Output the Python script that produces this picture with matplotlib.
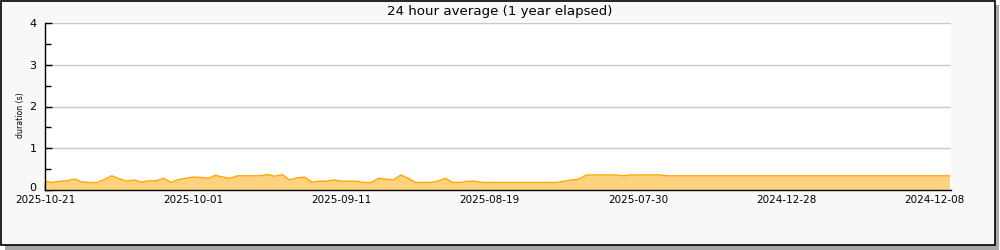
import matplotlib

matplotlib.use("Agg")
import matplotlib.pyplot as plt
import matplotlib.transforms as mtransforms
from matplotlib.patches import Rectangle
import numpy as np

TITLE = "24 hour average (1 year elapsed)"
Y_LABEL = "duration (s)"

# one value per day
durations = [
    0.21, 0.18, 0.21, 0.22, 0.26, 0.19, 0.18, 0.18, 0.25, 0.34,
    0.27, 0.21, 0.24, 0.19, 0.22, 0.22, 0.28, 0.18, 0.25, 0.28,
    0.31, 0.30, 0.28, 0.35, 0.31, 0.28, 0.34, 0.34, 0.34, 0.34,
    0.37, 0.33, 0.37, 0.24, 0.29, 0.31, 0.19, 0.21, 0.21, 0.24,
    0.21, 0.21, 0.21, 0.18, 0.18, 0.28, 0.26, 0.24, 0.36, 0.28,
    0.18, 0.18, 0.18, 0.21, 0.28, 0.18, 0.18, 0.21, 0.21, 0.18,
    0.18, 0.18, 0.18, 0.18, 0.18, 0.18, 0.18, 0.18, 0.18, 0.18,
    0.21, 0.24, 0.26, 0.36, 0.36, 0.36, 0.36, 0.36, 0.34, 0.36,
    0.36, 0.36, 0.36, 0.36,
] + [0.34] * 39

tick_positions = [0, 20, 40, 60, 80, 100, 120]
tick_labels = [
    "2025-10-21", "2025-10-01", "2025-09-11", "2025-08-19",
    "2025-07-30", "2024-12-28", "2024-12-08",
]
y_ticks = [0, 1, 2, 3, 4]

FILL = "#ffd27f"
EDGE = "#ffa600"
FONT = 7.5

fig = plt.figure(figsize=(10, 2.5), dpi=100, facecolor="white")

# framed panel with a drop shadow
fig.add_artist(Rectangle((0.005, 0.0), 0.994, 0.98, transform=fig.transFigure,
                         facecolor="#a8a8a8", edgecolor="none", zorder=-3))
fig.add_artist(Rectangle((0.0005, 0.02), 0.994, 0.978, transform=fig.transFigure,
                         facecolor="#f8f8f8", edgecolor="black", linewidth=1.2, zorder=-2))

ax = fig.add_axes((0.045, 0.24, 0.906, 0.668))
ax.set_facecolor("white")

x = np.arange(len(durations))
ax.fill_between(x, durations, 0, color=FILL, linewidth=0, zorder=2)
ax.plot(x, durations, color=EDGE, linewidth=1.0, zorder=3)

ax.set_xlim(0, 122.2)
ax.set_ylim(0, 4)

ax.set_yticks(y_ticks)
ax.set_yticks(np.arange(0.5, 4, 1.0), minor=True)
ax.set_xticks(tick_positions)
ax.set_xticklabels(tick_labels)
ax.set_xticks(np.arange(10, 121, 20), minor=True)

ax.grid(axis="y", color="#c8c8c8", linewidth=1.0, zorder=0)
ax.set_axisbelow(True)

for side in ("top", "right"):
    ax.spines[side].set_visible(False)
for side in ("left", "bottom"):
    ax.spines[side].set_linewidth(1.0)
    ax.spines[side].set_zorder(4)

ax.tick_params(axis="y", which="major", direction="in", length=5, width=1, pad=6,
               labelsize=8, colors="black")
ax.tick_params(axis="y", which="minor", direction="in", length=4, width=1)
ax.tick_params(axis="x", which="both", direction="in", length=6, width=1, pad=3.5,
               labelsize=FONT, colors="black")

# lift the "0" label a little so it clears the first date
zero_label = ax.get_yticklabels()[0]
zero_label.set_transform(zero_label.get_transform()
                         + mtransforms.ScaledTranslation(0, 2 / 72, fig.dpi_scale_trans))

fig.text(0.02, 0.54, Y_LABEL, rotation=90, ha="center", va="center", fontsize=5.6)
fig.text(0.5, 0.955, TITLE, ha="center", va="center", fontsize=9.6)

fig.savefig("out.png", dpi=100, facecolor=fig.get_facecolor())
